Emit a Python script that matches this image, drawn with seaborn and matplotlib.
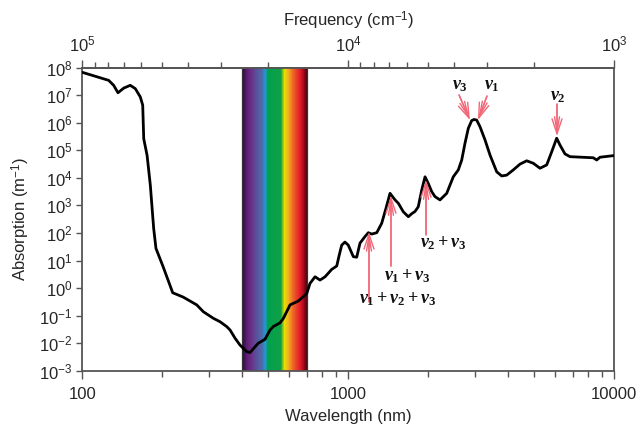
import numpy as np
import pandas as pd
import matplotlib
matplotlib.use("Agg")
import matplotlib.pyplot as plt
from matplotlib.colors import LinearSegmentedColormap
from matplotlib.ticker import NullLocator, LogLocator, NullFormatter, FixedLocator
import seaborn as sns

# ---- data ----
wavelength_nm = [100, 125.5, 131, 136, 143, 151.3, 158, 165, 168.5, 170, 175, 180, 185.3,
                 189, 201, 218.5, 239.5, 269, 285, 311, 329, 349, 359, 375, 391.5, 415,
                 427, 446, 459, 486, 508, 522, 554, 570, 604, 649, 698, 718, 750, 783,
                 818, 867, 905, 925, 945, 972, 1000, 1045, 1076, 1107, 1156, 1190, 1225,
                 1280, 1336, 1387, 1436, 1500, 1543, 1611, 1683, 1733, 1783, 1834, 1890,
                 1945, 2000, 2061, 2120, 2214, 2347, 2415, 2485, 2595, 2673, 2750, 2830,
                 2914, 2973, 3042, 3131, 3270, 3415, 3619, 3779, 3947, 4179, 4430, 4694,
                 4970, 5266, 5581, 5830, 6085, 6263, 6539, 6830, 8358, 8608, 8858, 10000]
log_absorption = [7.83, 7.54, 7.36, 7.09, 7.26, 7.36, 7.24, 6.94, 6.64, 5.42, 4.82, 3.73,
                  2.16, 1.44, 0.78, -0.17, -0.33, -0.61, -0.86, -1.10, -1.22, -1.40,
                  -1.52, -1.82, -2.07, -2.31, -2.34, -2.13, -2.00, -1.86, -1.52, -1.40,
                  -1.26, -1.10, -0.61, -0.47, -0.20, 0.17, 0.41, 0.29, 0.41, 0.68, 0.80,
                  1.20, 1.56, 1.67, 1.56, 1.14, 1.12, 1.63, 1.87, 2.01, 1.96, 2.01, 2.35,
                  2.90, 3.44, 3.20, 3.08, 2.77, 2.59, 2.70, 2.78, 2.95, 3.56, 4.04, 3.80,
                  3.50, 3.32, 3.20, 3.44, 3.74, 4.04, 4.29, 4.65, 5.26, 5.80, 6.08, 6.12,
                  6.10, 5.86, 5.38, 4.83, 4.22, 4.07, 4.10, 4.29, 4.50, 4.62, 4.53, 4.35,
                  4.47, 4.95, 5.44, 5.19, 4.87, 4.77, 4.73, 4.65, 4.75, 4.81]
absorption = [10 ** v for v in log_absorption]

ytick_values = [10.0 ** e for e in range(-3, 9)]
xtick_values = [100, 1000, 10000]
xtick_labels = ["100", "1000", "10000"]
freq_ticks = [1e5, 1e4, 1e3]
visible_band_nm = [400, 700]

# annotations
ann_labels = [r"$\nu_3$", r"$\nu_1$", r"$\nu_2$", r"$\nu_2+\nu_3$", r"$\nu_1+\nu_3$",
              r"$\nu_1+\nu_2+\nu_3$"]
ann_tip_nm = [2871, 3077, 6103, 1962, 1448, 1197]
ann_tip_log = [6.10, 6.10, 5.52, 3.92, 3.34, 2.04]
ann_tail_nm = [2611, 3327, 6103, 1962, 1448, 1197]
ann_tail_log = [7.01, 6.97, 6.68, 1.93, 0.80, -0.50]
ann_text_nm = [2634, 3476, 6150, 2273, 1664, 1539]
ann_text_log = [7.34, 7.34, 6.94, 1.64, 0.44, -0.41]

# ---- style ----
sns.set_theme(style="ticks")
plt.rcParams["font.family"] = ["Liberation Sans", "DejaVu Sans"]
plt.rcParams["mathtext.fontset"] = "custom"
plt.rcParams["mathtext.it"] = "Liberation Serif:italic:bold"
plt.rcParams["mathtext.rm"] = "Liberation Serif:bold"
plt.rcParams["mathtext.bf"] = "Liberation Serif:bold"
spine_col = "#555555"
fs = 12

fig = plt.figure(figsize=(6.38, 4.29), dpi=100)
ax = fig.add_axes([0.1293, 0.1359, 0.9624 - 0.1293, 0.8422 - 0.1359])

# visible spectrum band
cmap = LinearSegmentedColormap.from_list("vis", [
    (0.00, "#2e0b3e"), (0.06, "#5a1c70"), (0.13, "#6d2d88"), (0.20, "#5b4d98"),
    (0.30, "#4f6aa8"), (0.35, "#1e9ad8"), (0.39, "#00a050"), (0.60, "#10a044"),
    (0.65, "#e6e000"), (0.71, "#f2b020"), (0.80, "#ec5a28"), (0.90, "#e01828"),
    (1.00, "#5a0010")])
edges = np.geomspace(visible_band_nm[0], visible_band_nm[1], 200)
ax.pcolormesh(edges, [1e-3, 1e8], np.linspace(0, 1, 199)[None, :], cmap=cmap,
              shading="flat", zorder=1, rasterized=True)
for b in visible_band_nm:
    ax.axvline(b, color="#333333", lw=0.9, zorder=2)

df = pd.DataFrame({"Wavelength (nm)": wavelength_nm, "Absorption": absorption})
sns.lineplot(data=df, x="Wavelength (nm)", y="Absorption", ax=ax, color="black",
             lw=2.0, sort=False, zorder=3)
for ln in ax.lines:
    ln.set_solid_joinstyle("round")

ax.set_xscale("log")
ax.set_yscale("log")
ax.set_xlim(100, 10000)
ax.set_ylim(1e-3, 1e8)
ax.set_yticks(ytick_values)
ax.yaxis.set_minor_locator(NullLocator())
ax.set_xticks(xtick_values)
ax.set_xticklabels(xtick_labels)
ax.xaxis.set_minor_locator(LogLocator(base=10, subs=np.arange(2, 10)))
ax.xaxis.set_minor_formatter(NullFormatter())
ax.set_xlabel("Wavelength (nm)", fontsize=fs, labelpad=5)
ax.set_ylabel("Absorption (m$^{\\mathregular{-1}}$)", fontsize=fs, labelpad=5)
ax.tick_params(axis="x", which="major", labelsize=fs, direction="out",
               length=5.5, width=1.0, color=spine_col, pad=6)
ax.tick_params(axis="x", which="minor", direction="out", length=4.5, width=1.0,
               color=spine_col)
ax.tick_params(axis="y", which="major", labelsize=fs, direction="out", length=4,
               width=1.0, color=spine_col, pad=3)
for s in ax.spines.values():
    s.set_visible(True)
    s.set_color(spine_col)
    s.set_linewidth(1.3)

# frequency axis on top
sec = ax.secondary_xaxis("top", functions=(lambda x: 1e7 / x, lambda x: 1e7 / x))
sec.xaxis.set_major_locator(FixedLocator(freq_ticks))
sec.xaxis.set_minor_locator(LogLocator(base=10, subs=np.arange(2, 10)))
sec.xaxis.set_minor_formatter(NullFormatter())
sec.set_xlabel("Frequency (cm$^{\\mathregular{-1}}$)", fontsize=fs, labelpad=6)
sec.tick_params(axis="x", which="major", labelsize=fs, direction="out", length=5.5,
                width=1.0, color=spine_col, pad=4)
sec.tick_params(axis="x", which="minor", direction="out", length=4, width=1.0,
                color=spine_col)
sec.spines["top"].set_color(spine_col)
sec.spines["top"].set_linewidth(1.3)

# annotations
arrow_col = "#f06878"
for lab, tx, ty, sx, sy, lx, ly in zip(ann_labels, ann_tip_nm, ann_tip_log, ann_tail_nm,
                                        ann_tail_log, ann_text_nm, ann_text_log):
    for hw in (0.15, 0.3):
        ax.annotate("", xy=(tx, 10 ** ty), xytext=(sx, 10 ** sy),
                    arrowprops=dict(arrowstyle=f"->,head_length=0.9,head_width={hw}",
                                    color=arrow_col, lw=1.0, shrinkA=0, shrinkB=0),
                    zorder=4)
    ax.text(lx, 10 ** ly, lab, fontsize=13, ha="center", va="center", color="#111111",
            zorder=5)

fig.savefig("out.png", dpi=100)
